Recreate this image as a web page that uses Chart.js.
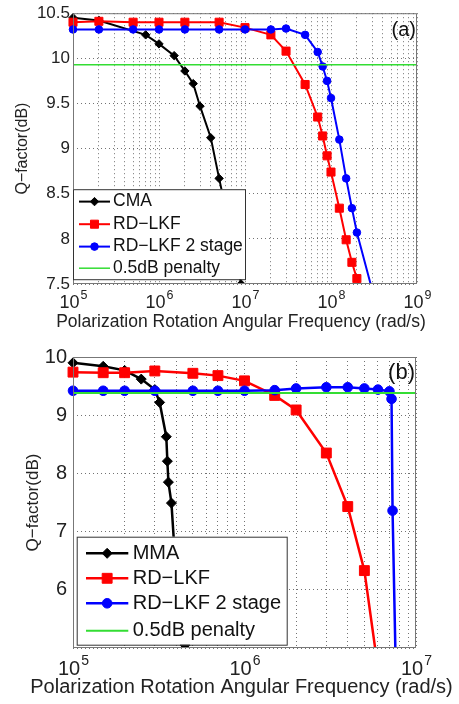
<!DOCTYPE html>
<html>
<head>
<meta charset="utf-8">
<script src="https://cdn.jsdelivr.net/npm/chart.js@4.4.1/dist/chart.umd.min.js"></script>
<style>
html, body { margin: 0; padding: 0; background: #fff; }
#wrapA { position: absolute; left: 0; top: 0; width: 459px; height: 335px; }
#wrapB { position: absolute; left: 0; top: 335px; width: 459px; height: 369px; }
</style>
</head>
<body>
<div id="wrapA"><canvas id="chartA"></canvas></div>
<div id="wrapB"><canvas id="chartB"></canvas></div>
<script>
// ---- panel (a) ----
var aCmaX = [1e5, 2e5, 7e5, 1e6, 1.5e6, 2e6, 2.5e6, 3e6, 4e6, 5e6, 6e6, 7e6, 8e6, 9e6];
var aCmaQ = [10.45, 10.42, 10.26, 10.16, 10.03, 9.86, 9.72, 9.47, 9.12, 8.67, 8.32, 8.02, 7.76, 7.5];

var aLkfX = [1e5, 2e5, 5e5, 1e6, 2e6, 5e6, 1e7, 2e7, 3e7, 5e7, 7e7, 8e7, 9e7, 1e8, 1.25e8, 1.5e8, 1.75e8, 2e8, 2.5e8];
var aLkfQ = [10.40, 10.41, 10.40, 10.40, 10.40, 10.40, 10.34, 10.26, 10.08, 9.71, 9.35, 9.14, 8.92, 8.74, 8.34, 7.99, 7.74, 7.56, 7.26];

var aLkf2X = [1e5, 2e5, 5e5, 1e6, 2e6, 5e6, 1e7, 2e7, 3e7, 5e7, 7e7, 8e7, 9e7, 1e8, 1.25e8, 1.5e8, 1.75e8, 2e8, 3e8];
var aLkf2Q = [10.32, 10.32, 10.32, 10.32, 10.32, 10.32, 10.32, 10.32, 10.33, 10.26, 10.07, 9.91, 9.75, 9.56, 9.10, 8.67, 8.34, 8.07, 7.44];

var aPenaltyX = [1e5, 1e9];
var aPenaltyQ = [9.93, 9.93];

// ---- panel (b) ----
var bMmaX = [1e5, 1.5e5, 2e5, 2.5e5, 3e5, 3.2e5, 3.5e5, 3.55e5, 3.6e5, 3.75e5, 4e5, 4.5e5];
var bMmaQ = [9.90, 9.84, 9.77, 9.62, 9.44, 9.22, 8.63, 8.21, 7.85, 7.49, 6.2, 5.05];

var bLkfX = [1e5, 1.5e5, 2e5, 3e5, 5e5, 7e5, 1e6, 1.5e6, 2e6, 3e6, 4e6, 5e6, 6e6];
var bLkfQ = [9.74, 9.73, 9.73, 9.76, 9.72, 9.68, 9.59, 9.34, 9.09, 8.35, 7.43, 6.33, 4.65];

var bLkf2X = [1e5, 1.5e5, 2e5, 3e5, 5e5, 7e5, 1e6, 1.5e6, 2e6, 3e6, 4e6, 5e6, 6e6, 7e6, 7.2e6, 7.3e6, 7.6e6];
var bLkf2Q = [9.42, 9.42, 9.42, 9.42, 9.42, 9.42, 9.42, 9.43, 9.46, 9.48, 9.48, 9.46, 9.44, 9.41, 9.28, 7.36, 4.8];

var bPenaltyX = [1e5, 1e7];
var bPenaltyQ = [9.38, 9.38];

var xTitle = 'Polarization Rotation Angular Frequency (rad/s)';
var yTitle = 'Q\u2212factor(dB)';
var FONT = "'Liberation Sans', Arial, sans-serif";

function pts(xs, ys) {
	return xs.map(function(x, i) { return {x: x, y: ys[i]}; });
}

function logTicks(fromExp, toExp) {
	var out = [];
	for (var e = fromExp; e < toExp; e++) {
		for (var s = 1; s < 10; s++) out.push({value: s * Math.pow(10, e)});
	}
	out.push({value: Math.pow(10, toExp)});
	return out;
}

function decadeExp(value) {
	var e = Math.round(Math.log10(value));
	return Math.abs(Math.log10(value) - e) > 1e-9 ? null : e;
}

// draws the box frame, 10^n tick labels, x title, the in-axes legend and the panel tag
var matlabBox = {
	id: 'matlabBox',
	afterDatasetsDraw: function(chart, args, o) {
		var ctx = chart.ctx, area = chart.chartArea;
		ctx.save();
		ctx.strokeStyle = '#777';
		ctx.lineWidth = 1;
		ctx.strokeRect(area.left + 0.5, area.top + 0.5, area.width - 1, area.height - 1);

		// decade labels with raised exponent
		var xs = chart.scales.x;
		ctx.fillStyle = '#222';
		ctx.textBaseline = 'alphabetic';
		ctx.textAlign = 'left';
		xs.ticks.forEach(function(t) {
			var e = decadeExp(t.value);
			if (e === null) return;
			var px = xs.getPixelForValue(t.value);
			ctx.font = o.expBase + 'px ' + FONT;
			var wb = ctx.measureText('10').width;
			ctx.font = o.expSup + 'px ' + FONT;
			var we = ctx.measureText(String(e)).width;
			var x0 = px - (wb + we) / 2;
			var y0 = area.bottom + o.expDy;
			ctx.font = o.expBase + 'px ' + FONT;
			ctx.fillText('10', x0, y0);
			ctx.font = o.expSup + 'px ' + FONT;
			ctx.fillText(String(e), x0 + wb + 1, y0 - o.expRise);
		});

		// x axis title, allowed to run wider than the plot
		ctx.font = o.xTitleSize + 'px ' + FONT;
		ctx.textAlign = 'center';
		ctx.textBaseline = 'middle';
		ctx.fillText(xTitle, (area.left + area.right) / 2 + o.xTitleDx, area.bottom + o.xTitleDy);

		var lx = area.left + o.boxX, ly = area.top + o.boxY;
		ctx.fillStyle = '#fff';
		ctx.fillRect(lx, ly, o.boxW, o.boxH);
		ctx.strokeStyle = '#333';
		ctx.strokeRect(lx + 0.5, ly + 0.5, o.boxW, o.boxH);

		ctx.font = o.fontSize + 'px ' + FONT;
		ctx.textBaseline = 'middle';
		ctx.textAlign = 'left';
		chart.data.datasets.forEach(function(ds, i) {
			var y = ly + o.rows[i];
			ctx.strokeStyle = ds.borderColor;
			ctx.lineWidth = ds.borderWidth;
			ctx.beginPath();
			ctx.moveTo(lx + o.lineFrom, y);
			ctx.lineTo(lx + o.lineTo, y);
			ctx.stroke();
			if (ds.pointRadius > 0) {
				ctx.fillStyle = ds.borderColor;
				ctx.strokeStyle = ds.borderColor;
				ctx.lineWidth = 1;
				Chart.helpers.drawPoint(ctx, {pointStyle: ds.pointStyle, radius: ds.pointRadius, rotation: 0, borderWidth: 1},
					lx + (o.lineFrom + o.lineTo) / 2, y);
			}
			ctx.fillStyle = '#111';
			ctx.fillText(ds.label, lx + o.textX, y);
		});

		ctx.font = o.tagSize + 'px ' + FONT;
		ctx.textAlign = 'right';
		ctx.fillStyle = '#111';
		ctx.fillText(o.tag, area.right - o.tagDx, area.top + o.tagDy);
		ctx.restore();
	}
};

function makeSeries(names, xs, ys, big) {
	var styles = [
		{color: '#000', style: 'rectRot', r: big ? 5 : 4.2, w: big ? 2.5 : 2},
		{color: '#ff0000', style: 'rect', r: big ? 7 : 5.7, w: big ? 2.5 : 2},
		{color: '#0000ff', style: 'circle', r: big ? 4.8 : 3.8, w: big ? 2.5 : 2},
		{color: '#33dd33', style: 'circle', r: 0, w: big ? 2 : 1.5}
	];
	return names.map(function(name, i) {
		var s = styles[i];
		return {
			label: name,
			data: pts(xs[i], ys[i]),
			borderColor: s.color,
			backgroundColor: s.color,
			pointBackgroundColor: s.color,
			pointBorderColor: s.color,
			borderWidth: s.w,
			pointStyle: s.style,
			pointRadius: s.r,
			pointBorderWidth: 1,
			tension: 0,
			order: 3 - i,
			clip: {left: 8, top: 8, right: 0, bottom: 0}
		};
	});
}

function makeConfig(p) {
	return {
		type: 'line',
		data: {datasets: p.datasets},
		plugins: [matlabBox],
		options: {
			responsive: true,
			maintainAspectRatio: false,
			animation: false,
			layout: {padding: {top: p.padTop, right: p.padRight, left: 0, bottom: 0}},
			scales: {
				x: {
					type: 'logarithmic',
					min: p.xMin,
					max: p.xMax,
					afterBuildTicks: function(s) { s.ticks = logTicks(p.expFrom, p.expTo); },
					afterFit: function(s) { s.height = p.xAxisH; },
					ticks: {autoSkip: false, maxRotation: 0, callback: function() { return ''; }},
					grid: {color: 'rgba(0,0,0,0.55)', drawTicks: false, lineWidth: 1},
					border: {display: false, dash: [1, 3]}
				},
				y: {
					min: p.yMin,
					max: p.yMax,
					afterFit: function(s) { s.width = 73; },
					ticks: {stepSize: p.yStep, padding: p.yTickPad, color: '#222',
						font: {family: FONT, size: p.tickSize}, callback: p.yLabel},
					grid: {color: 'rgba(0,0,0,0.55)', drawTicks: false, lineWidth: 1},
					border: {display: false, dash: [1, 3]},
					title: {display: true, text: yTitle, color: '#222',
						font: {family: FONT, size: p.yTitleSize}, padding: {top: p.yTitlePad, bottom: 0}}
				}
			},
			plugins: {
				legend: {display: false},
				tooltip: {enabled: false},
				matlabBox: p.box
			}
		}
	};
}

new Chart(document.getElementById('chartA'), makeConfig({
	datasets: makeSeries(['CMA', 'RD\u2212LKF', 'RD\u2212LKF 2 stage', '0.5dB penalty'],
		[aCmaX, aLkfX, aLkf2X, aPenaltyX], [aCmaQ, aLkfQ, aLkf2Q, aPenaltyQ], false),
	padTop: 13, padRight: 42,
	xMin: 1e5, xMax: 1e9, expFrom: 5, expTo: 9,
	xAxisH: 51, tickSize: 17,
	yMin: 7.5, yMax: 10.5, yStep: 0.5, yTickPad: 3, yTitleSize: 16, yTitlePad: 13,
	yLabel: function(v) { return String(v); },
	box: {boxX: 0, boxY: 176, boxW: 172, boxH: 90, rows: [12.4, 35, 57.4, 79],
		lineFrom: 6, lineTo: 37, textX: 40, fontSize: 17.5,
		tag: '(a)', tagSize: 20, tagDx: 1, tagDy: 17,
		expBase: 18, expSup: 12.5, expDy: 24, expRise: 9,
		xTitleSize: 17.5, xTitleDx: -4, xTitleDy: 38}
}));

new Chart(document.getElementById('chartB'), makeConfig({
	datasets: makeSeries(['MMA', 'RD\u2212LKF', 'RD\u2212LKF 2 stage', '0.5dB penalty'],
		[bMmaX, bLkfX, bLkf2X, bPenaltyX], [bMmaQ, bLkfQ, bLkf2Q, bPenaltyQ], true),
	padTop: 22, padRight: 43,
	xMin: 1e5, xMax: 1e7, expFrom: 5, expTo: 7,
	xAxisH: 56, tickSize: 20,
	yMin: 5, yMax: 10, yStep: 1, yTickPad: 6, yTitleSize: 17, yTitlePad: 23,
	yLabel: function(v) { return v === 5 ? '' : String(v); },
	box: {boxX: 3.7, boxY: 179.7, boxW: 210, boxH: 108, rows: [16.6, 41.6, 66.6, 94],
		lineFrom: 9.3, lineTo: 51.6, textX: 56, fontSize: 20,
		tag: '(b)', tagSize: 22, tagDx: 1, tagDy: 16,
		expBase: 20, expSup: 14, expDy: 27, expRise: 10,
		xTitleSize: 20, xTitleDx: -3, xTitleDy: 39}
}));
</script>
</body>
</html>
